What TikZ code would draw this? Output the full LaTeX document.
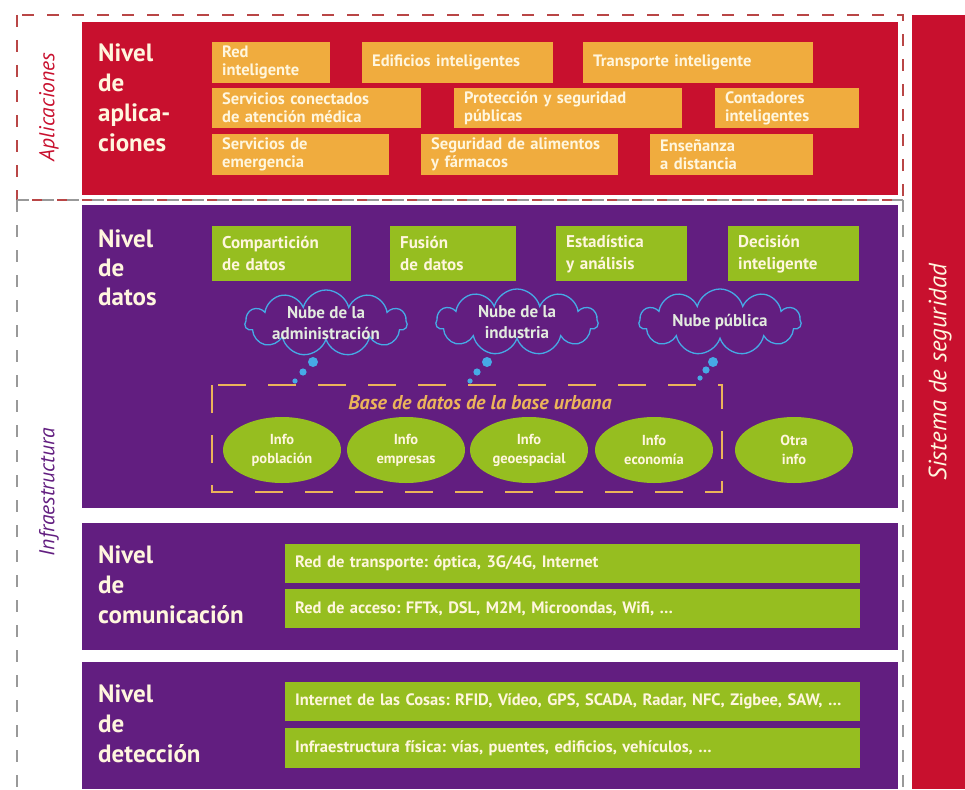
\documentclass[tikz,border=0pt]{standalone}
\usepackage{fontspec}
\setmainfont{PT Sans}
\frenchspacing
\usetikzlibrary{shapes.geometric,shapes.symbols}
\definecolor{rojo}{RGB}{200,16,46}
\definecolor{naranja}{RGB}{240,172,62}
\definecolor{morado}{RGB}{98,30,128}
\definecolor{verde}{RGB}{150,190,32}
\definecolor{crema}{RGB}{255,246,222}
\definecolor{celeste}{RGB}{70,170,230}
\definecolor{ocre}{RGB}{236,180,90}
\tikzset{
nivel/.style={anchor=north west,inner sep=0pt,align=left,text=crema,font=\fontsize{25}{30}\selectfont\bfseries},
caja app/.style={anchor=north west,fill=naranja,text=crema,align=left,inner xsep=10pt,inner ysep=1pt,font=\fontsize{16.5}{18}\selectfont\bfseries},
caja dato/.style={anchor=north west,fill=verde,text=crema,align=left,inner xsep=10pt,inner ysep=1pt,minimum height=55pt,font=\fontsize{17}{22}\selectfont\bfseries},
barra/.style={anchor=north west,fill=verde,text=crema,align=left,inner xsep=10pt,inner ysep=1pt,text width=555pt,font=\fontsize{16.5}{18}\selectfont\bfseries},
nube/.style={cloud,cloud puffs=11,aspect=2.4,draw=celeste,line width=1.3pt,fill=morado,minimum width=162pt,minimum height=66pt,inner sep=0pt},
nube texto/.style={text=crema!85!celeste,align=center,inner sep=0pt,font=\fontsize{17}{21}\selectfont\bfseries},
info/.style={ellipse,fill=verde,text=crema,align=center,minimum width=118pt,minimum height=66pt,inner sep=0pt,font=\fontsize{14.5}{19}\selectfont\bfseries},
burbuja/.style={fill=celeste},
region/.style={dash pattern=on 12pt off 13pt,line width=1.6pt},
lado/.style={rotate=90,font=\fontsize{21.5}{24}\selectfont\itshape}}

\begin{document}
\begin{tikzpicture}[x=1pt,y=-1pt]
\useasboundingbox (0,0) rectangle (965,789);

% fondos
\fill[rojo] (82,22) rectangle (898,195);
\fill[morado] (82,205) rectangle (898,508);
\fill[morado] (82,523) rectangle (898,650);
\fill[morado] (82,662) rectangle (898,789);
\fill[rojo] (912,15) rectangle (965,789);

% regiones
\draw[region,draw=red!45!gray] (17,15) rectangle (903,200);
\draw[region,draw=gray!80] (17,200) -- (903,200) (17,200) -- (17,800) (903,200) -- (903,800);
\node[lado,text=rojo] (aplic) at (49,107) {Aplicaciones};
\node[lado,text=morado] (infra) at (49,492) {Infraestructura};
\node[lado,text=crema,font=\fontsize{25}{28}\selectfont\itshape] (seg) at (940,372) {Sistema de seguridad};

% nivel de aplicaciones
\node[nivel] (n1) at (98,44) {Nivel\\de\\aplica-\\ciones};
\node[caja app,text width=98pt,minimum height=41pt] (red) at (212,42) {Red\\inteligente};
\node[caja app,text width=171pt,minimum height=41pt] (edif) at (362,42) {Edificios inteligentes};
\node[caja app,text width=210pt,minimum height=41pt] (transp) at (583,42) {Transporte inteligente};
\node[caja app,text width=189pt,minimum height=40pt] (serv) at (212,88) {Servicios conectados\\de atención médica};
\node[caja app,text width=208pt,minimum height=40pt] (prot) at (454,88) {Protección y seguridad\\públicas};
\node[caja app,text width=124pt,minimum height=40pt] (cont) at (715,88) {Contadores\\inteligentes};
\node[caja app,text width=157pt,minimum height=41pt] (emerg) at (212,134) {Servicios de\\emergencia};
\node[caja app,text width=177pt,minimum height=41pt] (alim) at (421,134) {Seguridad de alimentos\\y fármacos};
\node[caja app,text width=143pt,minimum height=41pt] (ense) at (650,134) {Enseñanza\\a distancia};

% nivel de datos
\node[nivel,font=\fontsize{25}{29}\selectfont\bfseries] (n2) at (98,230) {Nivel\\de\\datos};
\node[caja dato,text width=119pt] (comp) at (212,226) {Compartición\\de datos};
\node[caja dato,text width=106pt] (fus) at (390,226) {Fusión\\de datos};
\node[caja dato,text width=111pt] (est) at (556,226) {Estadística\\y análisis};
\node[caja dato,text width=111pt] (dec) at (728,226) {Decisión\\inteligente};

\node[nube] (adm) at (326,323) {};
\node[nube] (ind) at (517,322) {};
\node[nube] (pub) at (720,322) {};
\node[nube texto] at (adm) {Nube de la\\administración};
\node[nube texto] at (ind) {Nube de la\\industria};
\node[nube texto] at (pub) {Nube pública};
\fill[burbuja] (313,362) circle (5) (303,372) circle (3.6) (295,381) circle (2.6);
\fill[burbuja] (487,362) circle (5) (477,372) circle (3.6) (470,381) circle (2.6);
\fill[burbuja] (713,362) circle (5) (706,370) circle (3.6) (700,378) circle (2.6);

\draw[draw=ocre,line width=2pt,dash pattern=on 28pt off 22pt] (212,385) rectangle (722,492);
\node[text=ocre,font=\fontsize{20}{22}\selectfont\bfseries\itshape] (base) at (480,403) {Base de datos de la base urbana};
\node[info] (pobl) at (282,450) {Info\\población};
\node[info] (empr) at (406,450) {Info\\empresas};
\node[info] (geo) at (529,450) {Info\\geoespacial};
\node[info] (econ) at (654,450) {Info\\economía};
\node[info] (otra) at (794,450) {Otra\\info};

% nivel de comunicacion
\node[nivel] (n3) at (98,546) {Nivel\\de\\comunicación};
\node[barra,minimum height=39pt] (transporte) at (285,544) {Red de transporte: óptica, 3G/4G, Internet};
\node[barra,minimum height=39pt] (acceso) at (285,589) {Red de acceso: FFTx, DSL, M2M, Microondas, Wifi, \dots};

% nivel de deteccion
\node[nivel] (n4) at (98,685) {Nivel\\de\\detección};
\node[barra,minimum height=39pt] (iot) at (285,682) {Internet de las Cosas: RFID, Vídeo, GPS, SCADA, Radar, NFC, Zigbee, SAW, \dots};
\node[barra,minimum height=40pt] (fisica) at (285,728) {Infraestructura física: vías, puentes, edificios, vehículos, \dots};
\end{tikzpicture}
\end{document}
